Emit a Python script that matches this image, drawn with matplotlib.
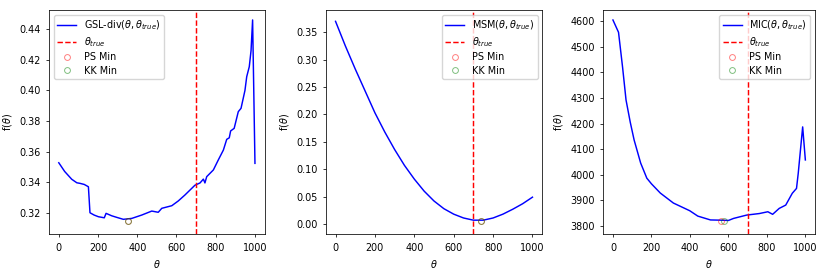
import numpy as np
import matplotlib
matplotlib.use("Agg")
import matplotlib.pyplot as plt

# GSL-div curve
gsl_x = [0, 30, 66, 92, 109, 130, 151, 159, 180, 202, 232, 241, 270, 295, 329, 372, 423, 474, 507, 525,
         576, 609, 643, 694, 720, 737, 745, 754, 788, 813, 839, 856, 869, 876, 894, 915, 929, 949, 958,
         971, 980, 988, 1000]
gsl_y = [0.3527, 0.347, 0.3419, 0.3396, 0.3392, 0.3385, 0.337, 0.320, 0.3185, 0.3174, 0.3167, 0.3196,
         0.318, 0.317, 0.3157, 0.3163, 0.3185, 0.3211, 0.3203, 0.3229, 0.3246, 0.3277, 0.3316, 0.338,
         0.3395, 0.342, 0.3395, 0.3436, 0.348, 0.3545, 0.361, 0.368, 0.369, 0.3735, 0.3752, 0.3861,
         0.3883, 0.400, 0.409, 0.4155, 0.426, 0.4461, 0.3523]
gsl_ps = (355, 0.3147)
gsl_kk = (355, 0.3147)

# MSM curve
msm_x = [0, 50, 100, 150, 200, 250, 300, 350, 400, 450, 500, 550, 600, 650, 700, 750, 800, 850, 900, 950, 1000]
msm_y = [0.370, 0.325, 0.283, 0.243, 0.203, 0.168, 0.136, 0.107, 0.082, 0.060, 0.042, 0.028, 0.018,
         0.011, 0.007, 0.007, 0.011, 0.018, 0.027, 0.037, 0.049]
msm_ps = (740, 0.006)
msm_kk = (740, 0.006)

# MIC curve
mic_x = [0, 29, 50, 68, 90, 110, 144, 176, 200, 246, 314, 399, 441, 507, 568, 600, 627, 695, 761, 805,
         830, 864, 898, 932, 954, 963, 986, 1000]
mic_y = [4604, 4556, 4420, 4292, 4205, 4136, 4046, 3987, 3965, 3929, 3890, 3860, 3839, 3824, 3823, 3822,
         3830, 3843, 3849, 3856, 3846, 3869, 3882, 3928, 3947, 4006, 4187, 4058]
mic_ps = (560, 3820)
mic_kk = (575, 3820)

theta_true = 700

plt.rcParams['font.size'] = 6.9

fig = plt.figure(figsize=(8.3, 2.71), dpi=100)
positions = [[0.059, 0.1354, 0.260, 0.8277],
             [0.3924, 0.1354, 0.261, 0.8277],
             [0.7269, 0.1354, 0.255, 0.8277]]
panels = [
    (gsl_x, gsl_y, gsl_ps, gsl_kk, r'GSL-div$(\theta, \theta_{true})$', 'upper left', (0.3059, 0.4526)),
    (msm_x, msm_y, msm_ps, msm_kk, r'MSM$(\theta, \theta_{true})$', 'upper right', (-0.0188, 0.3907)),
    (mic_x, mic_y, mic_ps, mic_kk, r'MIC$(\theta, \theta_{true})$', 'upper right', (3768, 4643)),
]

for pos, (x, y, ps, kk, lab, loc, ylim) in zip(positions, panels):
    ax = fig.add_axes(pos)
    ax.plot(x, y, color='blue', lw=1.05, label=lab)
    ax.axvline(theta_true, color='red', ls='--', lw=1.05, label=r'$\theta_{true}$')
    ax.plot(ps[0], ps[1], 'o', mfc='none', mec='red', alpha=0.5, ms=4.2, mew=0.7, ls='none', label='PS Min')
    ax.plot(kk[0], kk[1], 'o', mfc='none', mec='green', alpha=0.5, ms=4.2, mew=0.7, ls='none', label='KK Min')
    ax.set_xlim(-50, 1050)
    ax.set_ylim(*ylim)
    ax.set_xlabel(r'$\theta$')
    ax.set_ylabel(r'f($\theta$)')
    ax.legend(loc=loc, labelspacing=0.35, borderpad=0.35)
    ax.tick_params(width=0.55, length=2.4)
    for s in ax.spines.values():
        s.set_linewidth(0.55)

fig.savefig('out.png', dpi=100)
